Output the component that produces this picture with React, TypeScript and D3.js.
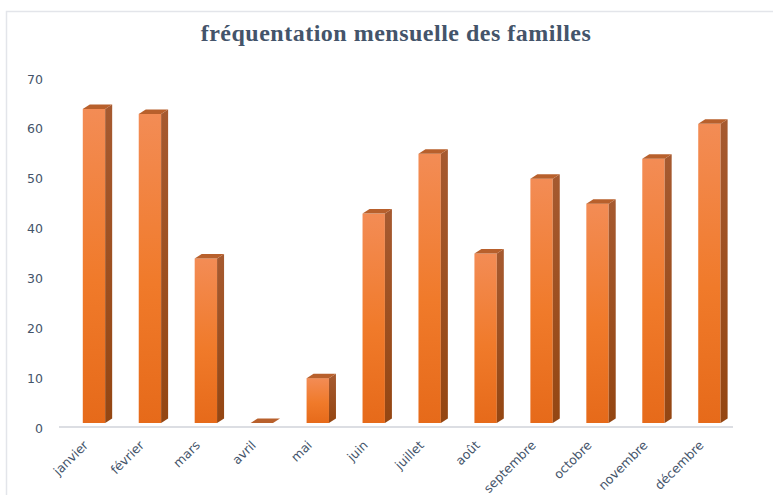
import React from 'react';
import * as d3 from 'd3';

const months = ['janvier', 'février', 'mars', 'avril', 'mai', 'juin', 'juillet', 'août', 'septembre', 'octobre', 'novembre', 'décembre'];
const visits = [64, 63, 34, 0, 10, 43, 55, 35, 50, 45, 54, 61];
const yTicks = [0, 10, 20, 30, 40, 50, 60, 70];
const title = 'fréquentation mensuelle des familles';

const W = 773;
const H = 495;

const App: React.FC = () => {
  const x = d3.scaleBand<string>()
    .domain(months)
    .range([66, 737.4])
    .paddingInner(0.6)
    .paddingOuter(0.3);

  const y = d3.scaleLinear().domain([0, 70]).range([428, 79]);

  // 3d depth of the bars
  const dx = 7;
  const dy = -4.5;
  const floor = y(0) - 5;
  const bw = x.bandwidth();
  const textColor = '#44546A';

  return (
    <svg
      width={W}
      height={H}
      style={{ position: 'absolute', left: 0, top: 0, background: '#fff' }}
    >
      <defs>
        <linearGradient id="front" x1="0" y1="0" x2="0" y2="1">
          <stop offset="0%" stopColor="#F38C55" />
          <stop offset="55%" stopColor="#F07A2A" />
          <stop offset="100%" stopColor="#E66A1A" />
        </linearGradient>
        <linearGradient id="side" x1="0" y1="0" x2="0" y2="1">
          <stop offset="0%" stopColor="#A65A30" />
          <stop offset="100%" stopColor="#944612" />
        </linearGradient>
      </defs>

      {/* chart frame */}
      <rect x={6.5} y={11.5} width={W + 10} height={H + 10} fill="#fff" stroke="#E3E5EA" strokeWidth={1.5} />

      <text
        x={396}
        y={41}
        textAnchor="middle"
        fontFamily="'Liberation Serif', serif"
        fontWeight="bold"
        fontSize={24}
        letterSpacing={0.5}
        fill={textColor}
      >
        {title}
      </text>

      {/* y axis labels */}
      {yTicks.map(t => (
        <text
          key={t}
          x={43}
          y={y(t)}
          dy="0.36em"
          textAnchor="end"
          fontFamily="'DejaVu Sans', sans-serif"
          fontSize={12.5}
          fill={textColor}
        >
          {t}
        </text>
      ))}

      {/* floor line */}
      <line x1={59} x2={733} y1={427} y2={427} stroke="#DCDEE3" strokeWidth={2} />

      {/* bars */}
      {months.map((m, i) => {
        const x0 = x(m) as number;
        const top = Math.min(y(visits[i]), floor);
        const h = floor - top;
        const side = [
          [x0 + bw, top], [x0 + bw + dx, top + dy], [x0 + bw + dx, floor + dy], [x0 + bw, floor],
        ].map(p => p.join(',')).join(' ');
        const cap = [
          [x0, top], [x0 + dx, top + dy], [x0 + bw + dx, top + dy], [x0 + bw, top],
        ].map(p => p.join(',')).join(' ');
        return (
          <g key={m}>
            {h > 0 && <rect x={x0} y={top} width={bw} height={h} fill="url(#front)" />}
            {h > 0 && <polygon points={side} fill="url(#side)" />}
            <polygon points={cap} fill="#B8602C" />
          </g>
        );
      })}

      {/* x labels */}
      {months.map(m => {
        const cx = (x(m) as number) + bw / 2;
        return (
          <text
            key={m}
            transform={`translate(${cx - 5},446) rotate(-45)`}
            textAnchor="end"
            fontFamily="'DejaVu Sans', sans-serif"
            fontSize={12.5}
            fill={textColor}
          >
            {m}
          </text>
        );
      })}
    </svg>
  );
};

export default App;
